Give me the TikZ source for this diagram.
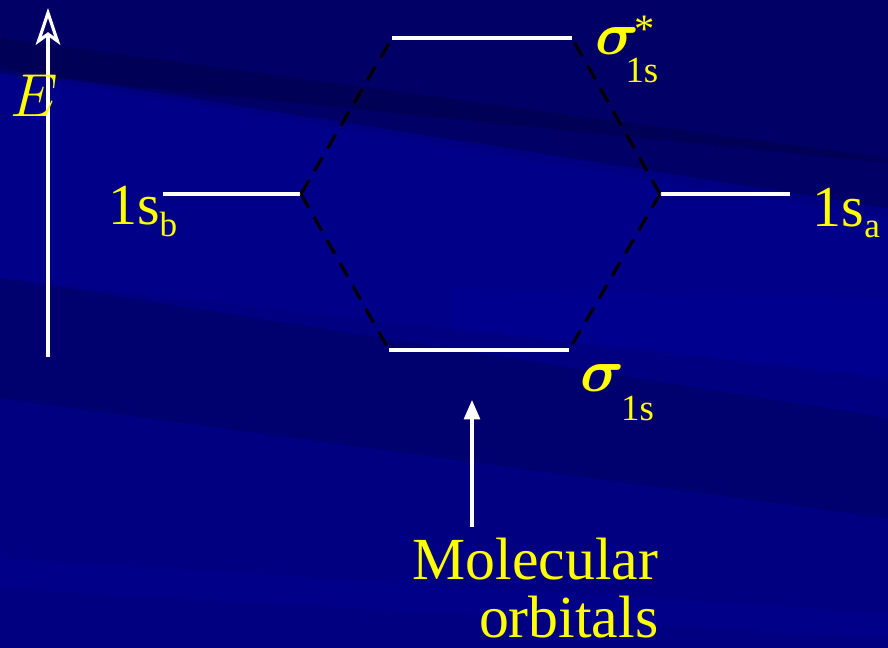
\documentclass[tikz,border=0pt]{standalone}
\usepackage{amsmath}
\usepackage{fontspec}
\setmainfont{Liberation Serif}
\usetikzlibrary{arrows.meta}

\definecolor{slideblue}{RGB}{0,0,128}
\definecolor{slidedark}{RGB}{0,0,64}
\definecolor{slidelight}{RGB}{0,0,160}
\definecolor{labelyellow}{RGB}{255,255,0}

\tikzset{
  orb/.style={white, line width=1.4pt},
  corr/.style={black, line width=0.9pt, dash pattern=on 4.5pt off 3pt},
  lbl/.style={text=labelyellow, inner sep=0pt},
  band/.style={slidedark, opacity=0.4},
  glow/.style={slidelight, opacity=0.3},
}

\begin{document}
\begin{tikzpicture}
    \useasboundingbox (0,0) rectangle (8.88,6.48);
    % Background with diagonal bands
    \fill[slideblue] (0,0) rectangle (8.88,6.48);
    \begin{scope}
        \clip (0,0) rectangle (8.88,6.48);
        \fill[band] (0,6.48) -- (0,5.75) -- (8.88,4.85) -- (8.88,6.48) -- cycle;
        \fill[band] (0,6.1) -- (0,5.8) -- (8.88,4.4) -- (8.88,4.9) -- cycle;
        \fill[band, opacity=0.25] (0,3.7) -- (0,2.5) -- (8.88,1.3) -- (8.88,2.3) -- cycle;
        \fill[glow] (0,5.75) -- (0,3.7) -- (8.88,2.7) -- (8.88,4.3) -- cycle;
        \fill[glow] (4.5,3.6) -- (8.88,3.5) -- (8.88,2.7) -- (4.5,3.2) -- cycle;
        \fill[glow] (0,0.9) -- (0,0.6) -- (8.88,0.1) -- (8.88,0.35) -- cycle;
    \end{scope}

    % Energy axis
    \coordinate (e0) at (0.48,2.91);
    \coordinate (e1) at (0.48,6.40);
    \draw[white, line width=0.9pt, -{Stealth[open, length=10.5pt, width=7pt, inset=2.5pt]}] (e0) -- (e1);
    \node[lbl, anchor=base west, font=\fontsize{16}{16}\selectfont] (E) at (0.10,5.31) {$E$};

    % Energy levels
    \coordinate (bL) at (1.63,4.54);  \coordinate (bR) at (3.01,4.54);
    \coordinate (aL) at (6.60,4.54);  \coordinate (aR) at (7.90,4.54);
    \coordinate (ssL) at (3.92,6.10); \coordinate (ssR) at (5.72,6.10);
    \coordinate (sL) at (3.89,2.98);  \coordinate (sR) at (5.69,2.98);
    \foreach \a/\b in {bL/bR, aL/aR, ssL/ssR, sL/sR}
        \draw[orb] (\a) -- (\b);
    \foreach \a/\b in {bR/ssL, bR/sL, aL/ssR, aL/sR}
        \draw[corr] (\a) -- (\b);

    % Labels
    \node[lbl, anchor=base east, font=\fontsize{16.5}{16.5}\selectfont] (lb) at (1.78,4.23)
        {1s\raisebox{-3.4pt}{\fontsize{10}{10}\selectfont b}};
    \node[lbl, anchor=base west, font=\fontsize{16.5}{16.5}\selectfont] (la) at (8.12,4.21)
        {1s\raisebox{-3pt}{\fontsize{10}{10}\selectfont a}};
    \node[lbl, anchor=base west, font=\fontsize{17}{17}\selectfont] (lss) at (5.95,5.93)
        {$\boldsymbol{\sigma}$\hspace{-2pt}\rlap{\hspace{0.5pt}\raisebox{3.5pt}{\fontsize{11.5}{11.5}\selectfont *}}\hspace{-2pt}\raisebox{-7.8pt}{\fontsize{10.5}{10.5}\selectfont 1s}};
    \node[lbl, anchor=base west, font=\fontsize{17}{17}\selectfont] (ls) at (5.80,2.56)
        {$\boldsymbol{\sigma}$\hspace{-1pt}\raisebox{-8pt}{\fontsize{10.5}{10.5}\selectfont 1s}};

    % Molecular orbitals pointer
    \coordinate (m0) at (4.72,1.21);
    \coordinate (m1) at (4.72,2.48);
    \draw[white, line width=0.9pt, -{Triangle[length=5.5pt, width=4.5pt]}] (m0) -- (m1);
    \node[lbl, anchor=north east, align=right, font=\fontsize{17}{16.5}\selectfont] (mo) at (6.59,1.11)
        {Molecular\\orbitals};
\end{tikzpicture}
\end{document}
